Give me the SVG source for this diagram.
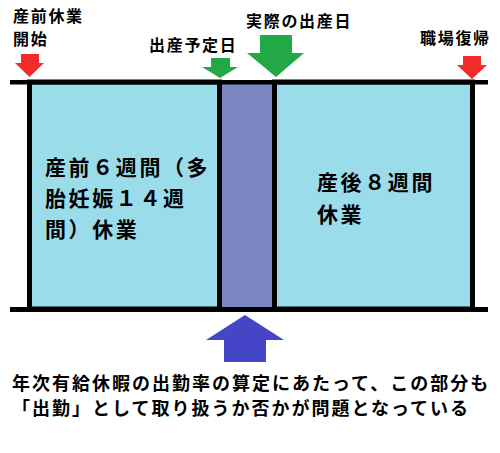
<svg xmlns="http://www.w3.org/2000/svg" width="500" height="453" viewBox="0 0 500 453">
<style>
.t{font-family:"Noto Sans CJK JP","Noto Sans CJK SC",sans-serif;font-weight:bold;fill:#000}
.s{font-size:16px;letter-spacing:1.7px}
.m{font-size:21px;letter-spacing:2.6px}
.b{font-size:18px;letter-spacing:2.0px}
.red{fill:#f22a2a}
.grn{fill:#22a845}
.blu{fill:#4545c8}
</style>
<rect width="500" height="453" fill="#fff"/>
<g id="boxes">
<g id="prenatal"><rect x="29.5" y="82" width="190" height="227" fill="#9bdcea" stroke="#000" stroke-width="5"/></g>
<g id="gap"><rect x="222" y="84" width="50" height="223" fill="#7a87c2"/></g>
<g id="postnatal"><rect x="274.5" y="82" width="198" height="227" fill="#9bdcea" stroke="#000" stroke-width="5"/></g>
</g>
<g id="connectors">
<rect x="10" y="80" width="478" height="4.5" fill="#000"/>
<rect x="10" y="307" width="478" height="5" fill="#000"/>
<polygon class="red" points="21,54 39,54 39,63 44,63 29.5,77 15,63 21,63"/>
<polygon class="red" points="463,56 481,56 481,65 487,65 472,79 457,65 463,65"/>
<polygon class="grn" points="211,58 230,58 230,67 238,67 220,78 202,67 211,67"/>
<polygon class="grn" points="260,35 292,35 292,53 304,53 276,77 247,53 260,53"/>
<polygon class="blu" points="224,362 266,362 266,340 284,340 245,315 206,340 224,340"/>
</g>
<g id="labels">
<text class="t s" x="13" y="22">産前休業</text>
<text class="t s" x="13" y="45">開始</text>
<text class="t s" x="149" y="51">出産予定日</text>
<text class="t s" x="246" y="27">実際の出産日</text>
<text class="t s" x="420" y="44">職場復帰</text>
<text class="t m" x="45" y="175">産前６週間（多</text>
<text class="t m" x="45" y="206">胎妊娠１４週</text>
<text class="t m" x="45" y="237">間）休業</text>
<text class="t m" x="317" y="190">産後８週間</text>
<text class="t m" x="317" y="222">休業</text>
<text class="t b" x="12" y="390">年次有給休暇の出勤率の算定にあたって、この部分も</text>
<text class="t b" x="12" y="415">「出勤」として取り扱うか否かが問題となっている</text>
</g>
</svg>
